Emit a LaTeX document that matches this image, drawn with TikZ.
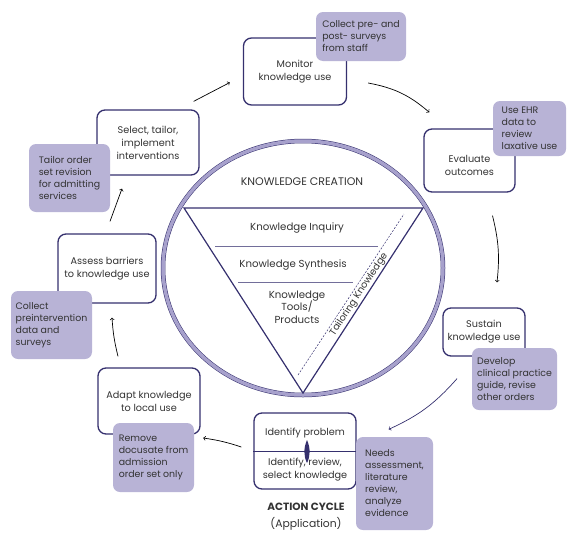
\documentclass[tikz,border=0pt]{standalone}
\usepackage{fontspec}
\setmainfont{Poppins}
\usetikzlibrary{calc}
\definecolor{navy}{HTML}{35306E}
\definecolor{lilac}{HTML}{B8B3D6}
\definecolor{bande}{HTML}{A7A1CC}
\definecolor{encre}{HTML}{333333}
\tikzset {boite/.style 2 args={draw=navy, line width=1.3pt, rounded corners=8pt,
            fill=white, minimum width=#1, minimum height=#2, align=center,
            text=encre, font=\fontsize{9.7}{13}\selectfont, inner sep=1pt}}
\tikzset {note/.style 2 args={fill=lilac, rounded corners=7pt, minimum width=#1,
            minimum height=#2, align=left, text=encre,
            font=\fontsize{9.4}{12}\selectfont, inner sep=1pt}}
\tikzset {texte/.style={align=center, text=encre, font=\fontsize{10.2}{12.5}\selectfont}}
\tikzset {fleche/.style={->, line width=0.7pt}}
\newcommand{\cadre}{\useasboundingbox (0,0) rectangle (573,536);}

\begin{document}
\begin{tikzpicture}[x=1pt,y=-1pt]
  \cadre
  \draw [navy, line width=0.5pt, double=bande, double distance=3.5pt]
    (303,268) ellipse [x radius=140pt, y radius=127pt];
  \draw [navy, line width=1.2pt] (184,208) -- (423,208) -- (303,393) -- cycle;
  \draw [navy!70, line width=0.6pt] (215,246) -- (378,246) (238,282) -- (353,282);
  \draw [navy, line width=0.5pt, dash pattern=on 2pt off 1.5pt] (298,375) -- (404,214);
  \node [texte, font=\fontsize{11}{12}\selectfont] (creation) at (302,182) {KNOWLEDGE CREATION};
  \node [texte] (inquiry) at (297,228) {Knowledge Inquiry};
  \node [texte] (synthesis) at (293,265) {Knowledge Synthesis};
  \node [texte] (tools) at (297,307) {Knowledge\\Tools/\\Products};
  \node [texte, font=\fontsize{9.6}{12}\selectfont, rotate=56.6, inner sep=0pt] (tailoring) at (359,294.5) {Tailoring Knowledge};

  \node [boite={103pt}{67pt}] (monitor) at (295,71.5) {Monitor\\knowledge use};
  \node [boite={91pt}{63pt}] (evaluate) at (469.5,160.5) {};
  \node [texte, font=\fontsize{9.7}{13}\selectfont] (evaluatetext) at (469.5,165) {Evaluate\\outcomes};
  \node [boite={102pt}{65pt}] (select) at (148,142.5) {Select, tailor,\\implement\\interventions};
  \node [boite={98pt}{69pt}] (assess) at (107,268.5) {Assess barriers\\to knowledge use};
  \node [boite={102pt}{66pt}] (adapt) at (149,401) {Adapt knowledge\\to local use};
  \node [boite={82pt}{48pt}] (sustain) at (484,332) {Sustain\\knowledge use};
  \node [boite={102pt}{76pt}] (identify) at (305,451) {};
  \draw [navy, line width=1pt] (identify.west) -- (identify.east);
  \fill [navy] (307,440) .. controls (310.5,448) and (310.5,456) .. (307,463)
    .. controls (303.5,456) and (303.5,448) .. (307,440) -- cycle;
  \node [texte, font=\fontsize{9.7}{13}\selectfont] (problem) at (305,433) {Identify problem};
  \node [texte, font=\fontsize{9.7}{13}\selectfont] (review) at (305,470) {Identify, review,\\select knowledge};
  \node [texte, font=\fontsize{10.5}{12}\bfseries] (action) at (306,507) {ACTION CYCLE};
  \node [texte, font=\fontsize{10.8}{12}\selectfont] (application) at (306,524) {(Application)};

  \node [note={90pt}{49pt}] (collectpost) at (361,36.5) {Collect pre- and\\post- surveys\\from staff};
  \node [note={73pt}{55pt}] (ehr) at (529.5,128.5) {Use EHR\\data to\\review\\laxative use};
  \node [note={81pt}{68pt}] (tailor) at (69.5,178) {Tailor order\\set revision\\for admitting\\services};
  \node [note={81pt}{68pt}] (collectpre) at (51.5,325) {Collect\\preintervention\\data and\\surveys};
  \node [note={81pt}{69pt}] (remove) at (153.5,457.5) {Remove\\docusate from\\admission\\order set only};
  \node [note={85pt}{62pt}] (develop) at (514.5,379) {Develop\\clinical practice\\guide, revise\\other orders};
  \node [note={77pt}{93pt}] (needs) at (394.5,483.5) {Needs\\assessment,\\literature\\review,\\analyze\\evidence};

  \draw [fleche] ($(select.north east)+(-6,-8)$) -- ($(monitor.west)+(-13,11)$);
  \draw [fleche] ($(monitor.east)+(21,11.5)$) to [bend left=15] ($(evaluate.north west)+(6,-16)$);
  \draw [fleche] ($(evaluate.south)+(23,23)$) to [bend left=10] ($(sustain.north)+(13,-25)$);
  \draw [fleche, navy] ($(sustain.south)+(-27,22)$) to [bend left=12] ($(identify.north east)+(32,17)$);
  \draw [fleche] ($(identify.west)+(-12,-4)$) to [bend right=5] ($(remove.east)+(9,-19.5)$);
  \draw [fleche] ($(adapt.north)+(-31,-11)$) to [bend left=5] ($(assess.south)+(5,14)$);
  \draw [fleche] ($(assess.north)+(3,-12)$) -- ($(select.south)+(-26,13)$);
\end{tikzpicture}
\end{document}
